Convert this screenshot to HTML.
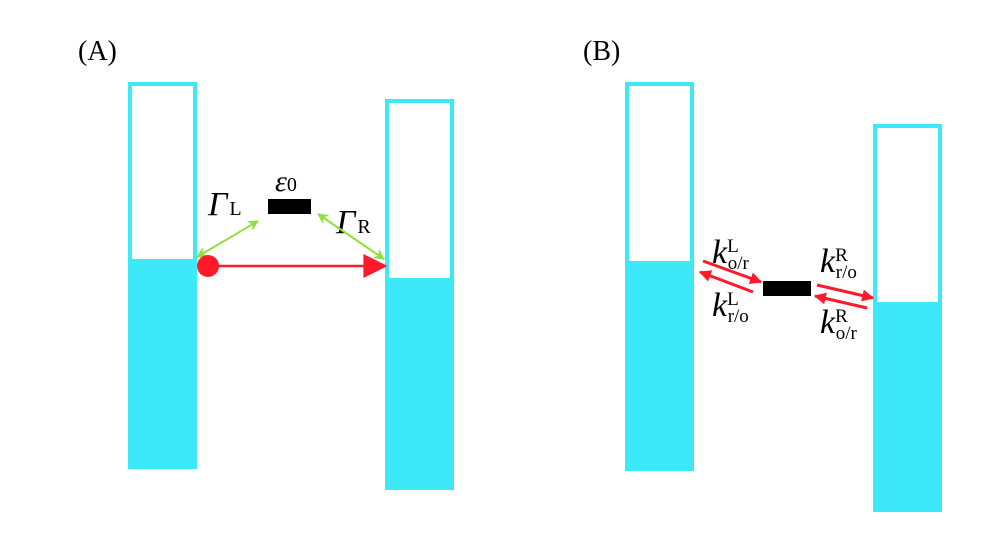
<!DOCTYPE html>
<html><head><style>body{margin:0;background:#fff}svg{display:block}</style></head><body>
<svg width="1000" height="553" viewBox="0 0 1000 553" xmlns="http://www.w3.org/2000/svg" font-family="Liberation Serif, serif">
<defs>
<marker id="g" viewBox="0 0 10 10" refX="9" refY="5" markerUnits="userSpaceOnUse" markerWidth="11" markerHeight="11" orient="auto-start-reverse"><path d="M0,0 L10,5 L0,10 L3,5 z" fill="#8ee03a"/></marker>
<marker id="rb" viewBox="0 0 10 10" refX="9" refY="5" markerUnits="userSpaceOnUse" markerWidth="27" markerHeight="24" orient="auto"><path d="M0,0 L10,5 L0,10 z" fill="#ff1a2a"/></marker>
<marker id="r" viewBox="0 0 10 10" refX="9" refY="5" markerUnits="userSpaceOnUse" markerWidth="14" markerHeight="12" orient="auto"><path d="M0,0 L10,5 L0,10 z" fill="#ff1a2a"/></marker>
</defs>
<g fill="#fff" stroke="#3de8f8" stroke-width="4">
<rect x="130" y="84" width="65" height="383"/>
<rect x="387" y="101" width="65" height="387"/>
<rect x="627" y="84" width="65" height="385"/>
<rect x="875" y="126" width="65" height="384"/>
</g>
<g fill="#3de8f8">
<rect x="128" y="259" width="69" height="210"/>
<rect x="385" y="278" width="69" height="212"/>
<rect x="625" y="261" width="69" height="210"/>
<rect x="873" y="302" width="69" height="210"/>
</g>
<text x="78" y="60" font-size="28">(A)</text>
<text x="583" y="60" font-size="28">(B)</text>
<rect x="268" y="199" width="43" height="15" fill="#000"/>
<rect x="763" y="281" width="48" height="15" fill="#000"/>
<text x="275" y="191" font-size="30" font-style="italic">ε<tspan font-style="normal" font-size="20">0</tspan></text>
<text x="208" y="215" font-size="34" font-style="italic">Γ<tspan font-style="normal" font-size="20" dx="2">L</tspan></text>
<text x="336" y="233" font-size="34" font-style="italic">Γ<tspan font-style="normal" font-size="20" dx="2">R</tspan></text>
<line x1="197" y1="257" x2="258" y2="221" stroke="#8ee03a" stroke-width="2" marker-start="url(#g)" marker-end="url(#g)"/>
<line x1="318" y1="214" x2="384" y2="259" stroke="#8ee03a" stroke-width="2" marker-start="url(#g)" marker-end="url(#g)"/>
<line x1="210" y1="266" x2="385" y2="266" stroke="#ff1a2a" stroke-width="2.5" marker-end="url(#rb)"/>
<circle cx="208" cy="266" r="11" fill="#ff1a2a"/>
<g stroke="#ff1a2a" stroke-width="3" fill="none">
<line x1="703" y1="261" x2="761" y2="282" marker-end="url(#r)"/>
<line x1="753" y1="292" x2="700" y2="272" marker-end="url(#r)"/>
<line x1="817" y1="285" x2="873" y2="298" marker-end="url(#r)"/>
<line x1="867" y1="308" x2="815" y2="296" marker-end="url(#r)"/>
</g>
<g font-size="34" font-style="italic">
<text x="712" y="263">k<tspan font-style="normal" font-size="19" dy="-11">L</tspan><tspan font-style="normal" font-size="19" dx="-11" dy="17">o/r</tspan></text>
<text x="712" y="316">k<tspan font-style="normal" font-size="19" dy="-11">L</tspan><tspan font-style="normal" font-size="19" dx="-11" dy="17">r/o</tspan></text>
<text x="820" y="272">k<tspan font-style="normal" font-size="19" dy="-11">R</tspan><tspan font-style="normal" font-size="19" dx="-12" dy="17">r/o</tspan></text>
<text x="820" y="333">k<tspan font-style="normal" font-size="19" dy="-11">R</tspan><tspan font-style="normal" font-size="19" dx="-12" dy="17">o/r</tspan></text>
</g>
</svg>
</body></html>
